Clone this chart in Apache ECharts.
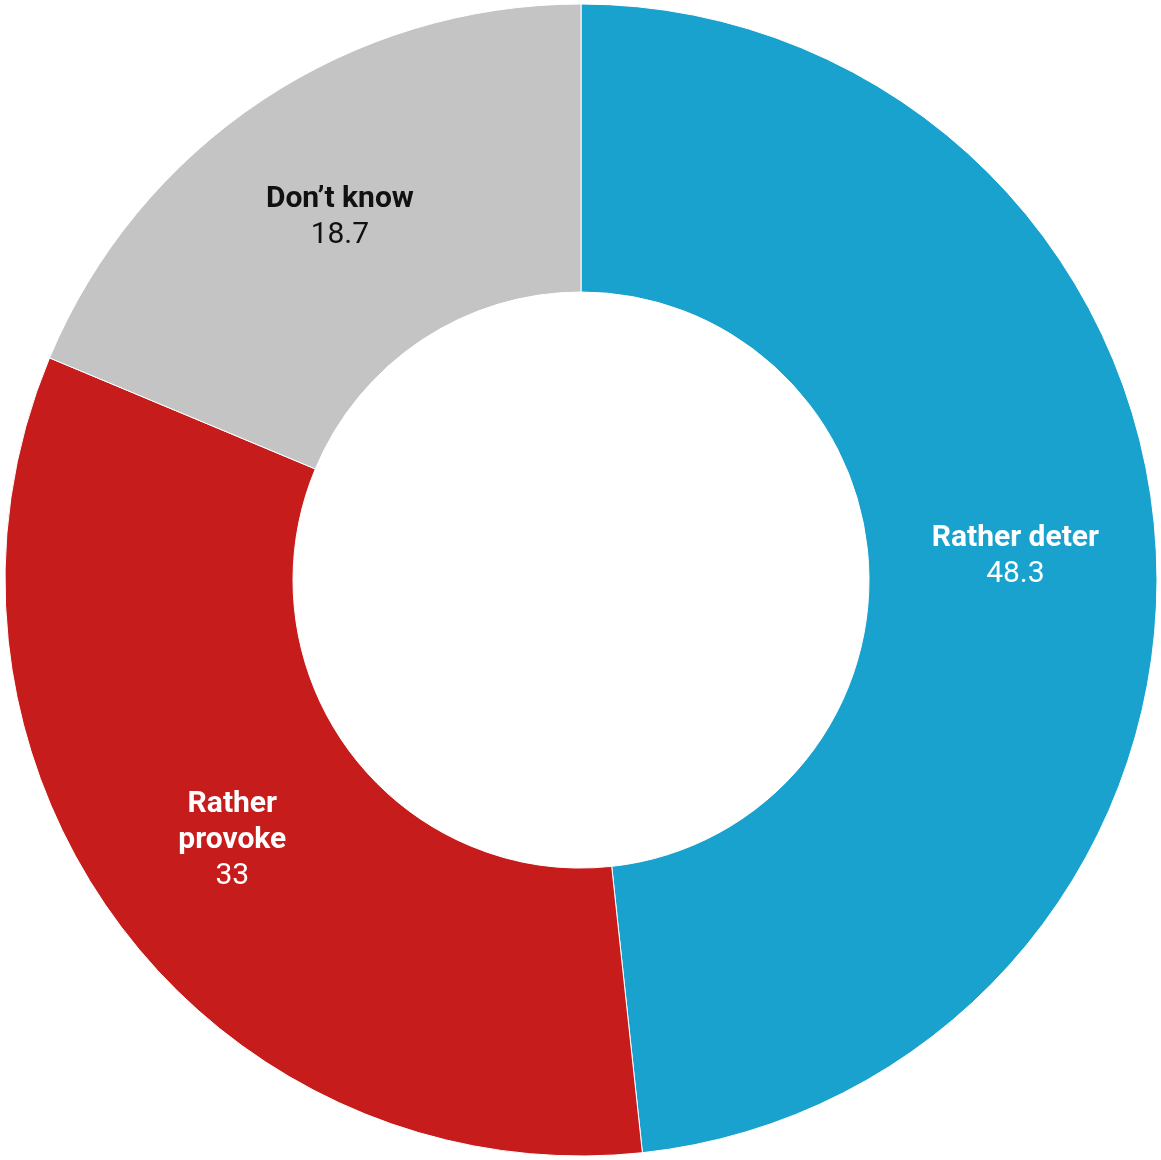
<!DOCTYPE html>
<html>
<head>
<meta charset="utf-8">
<script src="https://cdn.jsdelivr.net/npm/echarts@6/dist/echarts.min.js"></script>
<style>
html,body{margin:0;padding:0;background:#fff;}
#chart{width:1161px;height:1160px;}
</style>
</head>
<body>
<div id="chart"></div>
<script>
const categories = ["Rather deter", "Rather provoke", "Don\u2019t know"];
const values = [48.3, 33, 18.7];
const colors = ["#1aa2cf", "#c71c1c", "#c4c4c4"];
const labelColors = ["#ffffff", "#ffffff", "#111111"];

const chart = echarts.init(document.getElementById('chart'));
chart.setOption({
  animation: false,
  series: [{
    type: 'pie',
    center: [581, 580],
    radius: [288, 576],
    startAngle: 90,
    clockwise: true,
    avoidLabelOverlap: false,
    itemStyle: { borderColor: '#ffffff', borderWidth: 1 },
    label: {
      show: true,
      position: 'inside',
      fontFamily: 'Roboto',
      lineHeight: 36,
      formatter: function (p) {
        const n = p.name.length > 12 ? p.name.replace(' ', '\n') : p.name;
        return '{b|' + n.split('\n').join('}\n{b|') + '}\n{c|' + p.value + '}';
      },
      rich: {
        b: { fontFamily: 'Roboto', fontWeight: 'bold', fontSize: 30, lineHeight: 36 },
        c: { fontFamily: 'Roboto', fontWeight: 'normal', fontSize: 30, lineHeight: 36 }
      }
    },
    labelLine: { show: false },
    emphasis: { disabled: true },
    data: categories.map((c, i) => ({
      name: c,
      value: values[i],
      itemStyle: { color: colors[i] },
      label: { color: labelColors[i] }
    }))
  }]
});
</script>
</body>
</html>
